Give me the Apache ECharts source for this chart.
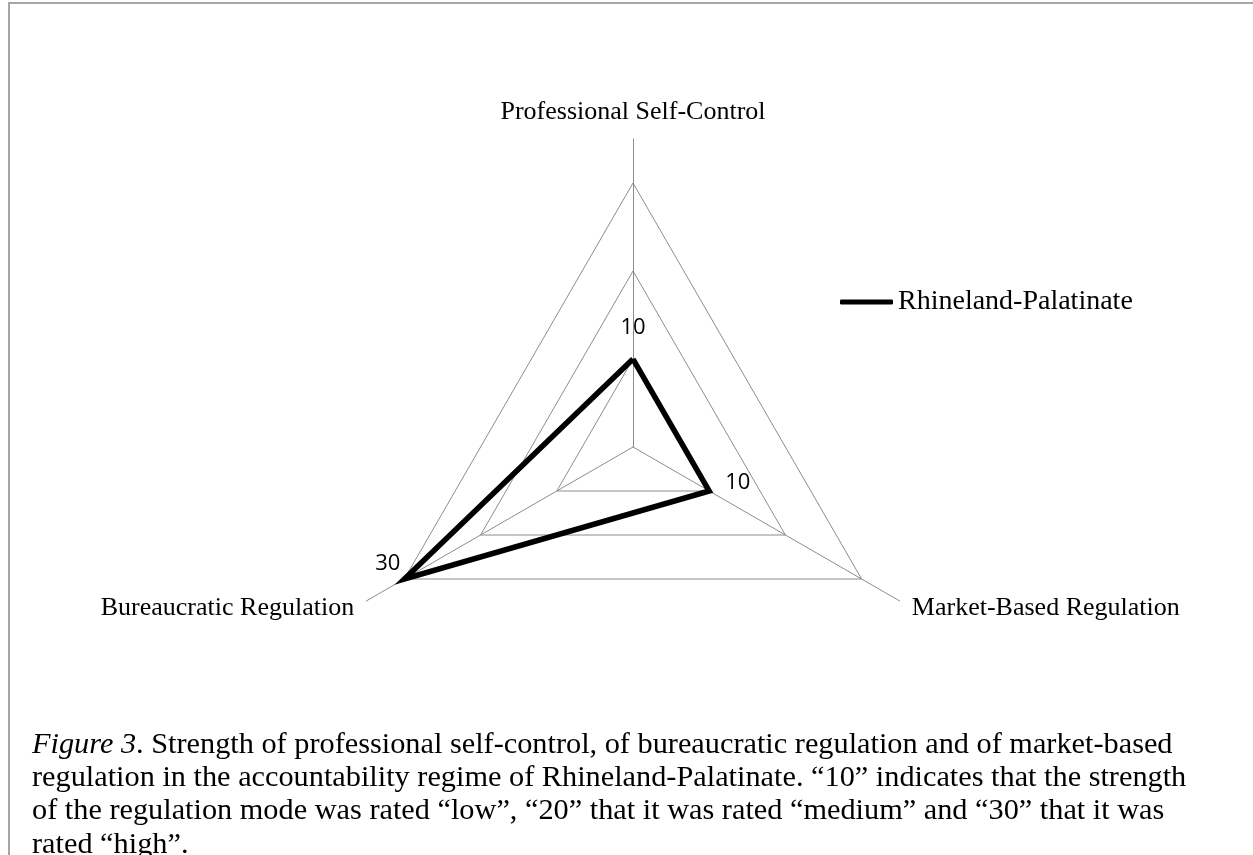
<!DOCTYPE html>
<html>
<head>
<meta charset="utf-8">
<title>Figure 3</title>
<script src="https://cdn.jsdelivr.net/npm/echarts@6/dist/echarts.min.js"></script>
<style>
  html, body { margin: 0; padding: 0; background: #fff; }
  #frame { position: absolute; left: 8px; top: 2px; width: 1245px; height: 853px;
           border-top: 2px solid #a6a6a6; border-left: 2px solid #a6a6a6; box-sizing: border-box; }
  #chart { width: 1253px; height: 855px; }
</style>
</head>
<body>
<div id="frame"></div>
<div id="chart"></div>
<script>
// radar order goes counter-clockwise from the top
var categories = ["Professional Self-Control", "Bureaucratic Regulation", "Market-Based Regulation"];
var values = [10, 30, 10];
var seriesName = "Rhineland-Palatinate";
var axisMax = 30;
var captionLines = [
    "{it|Figure 3}. Strength of professional self-control, of bureaucratic regulation and of market-based",
    "regulation in the accountability regime of Rhineland-Palatinate. \u201c10\u201d indicates that the strength",
    "of the regulation mode was rated \u201clow\u201d, \u201c20\u201d that it was rated \u201cmedium\u201d and \u201c30\u201d that it was",
    "rated \u201chigh\u201d."
];

var serif = "'Liberation Serif', 'Times New Roman', serif";
var cx = 633, cy = 447, R = 264;

// one label position per vertex: top, lower-left, lower-right
var labelPos = [
    { position: "top", distance: 20, offset: [0, 0] },
    { position: "left", distance: 4, offset: [0, -15] },
    { position: "right", distance: 16, offset: [0, -8] }
];

var chart = echarts.init(document.getElementById("chart"));
chart.setOption({
    animation: false,
    title: {
        text: captionLines.join("\n"),
        left: 27,
        top: 723,
        textStyle: {
            fontFamily: serif, fontSize: 30.3, fontWeight: "normal", color: "#000", lineHeight: 33.4,
            rich: { it: { fontFamily: serif, fontSize: 30.3, fontStyle: "italic", color: "#000", lineHeight: 33.4 } }
        }
    },
    legend: {
        data: [seriesName],
        left: 835,
        top: 283,
        icon: "roundRect",
        itemWidth: 53,
        itemHeight: 5,
        itemGap: 5,
        textStyle: { fontFamily: serif, fontSize: 28, color: "#000", padding: [0, 0, 0, 0] }
    },
    radar: [
        {
            // grid rings
            center: [cx, cy],
            radius: R,
            startAngle: 90,
            splitNumber: 3,
            shape: "polygon",
            indicator: categories.map(function (c) { return { name: c, min: 0, max: axisMax }; }),
            axisName: { show: false },
            axisLine: { show: false },
            splitLine: { lineStyle: { color: "#8c8c8c", width: 1 } },
            splitArea: { show: false }
        },
        {
            // spokes and axis names
            center: [cx, cy],
            radius: 308,
            startAngle: 90,
            splitNumber: 1,
            shape: "polygon",
            indicator: categories.map(function (c) { return { name: c, min: 0, max: axisMax }; }),
            nameGap: 14,
            axisName: { color: "#000", fontFamily: serif, fontSize: 26 },
            axisLine: { lineStyle: { color: "#8c8c8c", width: 1 } },
            splitLine: { show: false },
            splitArea: { show: false }
        }
    ],
    polar: { center: [cx, cy], radius: R },
    angleAxis: { type: "value", min: 0, max: 360, startAngle: 90, clockwise: false, show: false },
    radiusAxis: { type: "value", min: 0, max: axisMax, show: false },
    series: [
        {
            name: seriesName,
            type: "radar",
            radarIndex: 0,
            symbol: "none",
            lineStyle: { color: "#000", width: 5.5, join: "miter" },
            itemStyle: { color: "#000" },
            data: [{ name: seriesName, value: values }]
        },
        {
            name: "labels",
            type: "scatter",
            coordinateSystem: "polar",
            symbolSize: 0,
            silent: true,
            itemStyle: { color: "#000", opacity: 1 },
            data: values.map(function (v, i) {
                return {
                    value: [v, i * 360 / categories.length],
                    label: {
                        show: true,
                        position: labelPos[i].position,
                        distance: labelPos[i].distance,
                        offset: labelPos[i].offset,
                        formatter: String(v),
                        fontFamily: "'Open Sans', Lato, sans-serif",
                        fontSize: 22,
                        color: "#000",
                        opacity: 1
                    }
                };
            })
        }
    ]
});
</script>
</body>
</html>
